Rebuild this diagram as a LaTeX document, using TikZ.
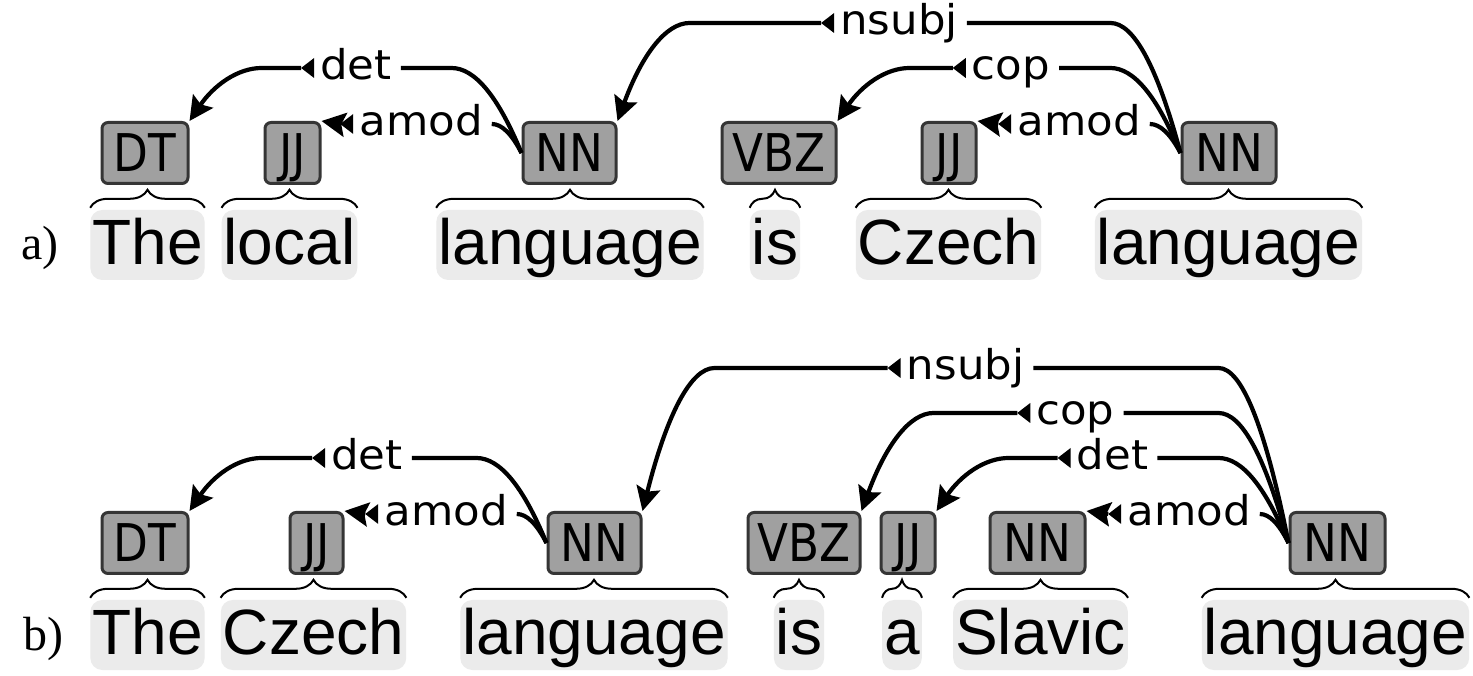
\documentclass[tikz,border=0pt]{standalone}
\usepackage{fontspec}
\usetikzlibrary{arrows.meta,calc,decorations.pathreplacing}
\newfontfamily\wordfont{Liberation Sans}
\newfontfamily\tagfont[FakeStretch=0.87]{DejaVu Sans}
\newfontfamily\labfont[FakeStretch=1.06]{DejaVu Sans}
\newfontfamily\letfont{Liberation Serif}
\definecolor{tagfill}{HTML}{A0A0A0}
\definecolor{tagline}{HTML}{353535}
\definecolor{wordbg}{HTML}{EBEBEB}
\tikzset{
  postag/.style={draw=tagline, line width=3pt, fill=tagfill, rounded corners=6pt,
    inner sep=0pt, minimum height=61pt, text height=37.9pt, text depth=0pt,
    font=\tagfont\fontsize{52}{52}\selectfont},
  wordbox/.style={fill=wordbg, rounded corners=12pt, inner xsep=2pt, inner ysep=4pt,
    text height=51pt, text depth=11pt, anchor=base,
    font=\wordfont\fontsize{64}{64}\selectfont},
  arclabel/.style={inner sep=0pt, text height=22.4pt, text depth=0pt,
    font=\labfont\fontsize{41}{41}\selectfont},
  arcline/.style={line width=4.2pt},
  bigtip/.style={-{Stealth[length=24pt,width=24pt,inset=4pt]}},
  wordbrace/.style={decorate, decoration={brace, amplitude=18pt}, line width=2pt},
  rowmark/.style={anchor=base west, font=\letfont\fontsize{48}{48}\selectfont}
}
\newcommand\LabMark[1]{%
  \coordinate (#1-tip) at ([xshift=-19pt]#1.west);
  \coordinate (#1-end) at ([xshift=9pt]#1.east);
  \fill (#1-tip) -- ([shift={(-6pt,10pt)}]#1.west) -- ([shift={(-6pt,-10pt)}]#1.west) -- cycle;
}
% #1 id, #2 dependent tag, #3 head tag, #4 label x, #5 level, #6 text
\newcommand\DepArc[6]{%
  \node[arclabel] (#1) at (#4,#5) {#6};
  \LabMark{#1}
  \draw[arcline,bigtip] let \p1=(#1-tip), \p2=(#2.north east) in
    (\p1) -- (\x2+72pt,\y1) .. controls (\x2+48pt,\y1) and (\x2+24pt,{\y2+(\y1-\y2)*2/3}) .. (\p2);
  \draw[arcline] let \p1=(#1-end), \p2=(#3.west) in
    (\p1) -- (\x2-70pt,\y1) .. controls (\x2-46.67pt,\y1) and (\x2-23.33pt,{\y2+(\y1-\y2)*2/3}) .. (\p2);
}
\newcommand\ShortArc[6]{%
  \node[arclabel] (#1) at (#4,#5) {#6};
  \LabMark{#1}
  \draw[arcline,bigtip] (#1-tip) -- (#2.north east);
  \draw[arcline] let \p1=(#1-end), \p2=(#3.west) in
    (\p1) .. controls ({\x1+(\x2-\x1)/3},\y1) and ({\x2-(\x2-\x1)/3},{\y2+(\y1-\y2)*2/3}) .. (\p2);
}
\newcommand\WordBrace[1]{%
  \draw[wordbrace] ([yshift=2pt]#1.north west) -- ([yshift=2pt]#1.north east);
}
\begin{document}
\begin{tikzpicture}[x=1pt,y=1pt]
\fill[white] (0,0) rectangle (1473,675);
\useasboundingbox (0,0) rectangle (1473,675);

% ---------- a) ----------
\node[rowmark] (la) at (18,415) {a)};
\node[postag, minimum width=86pt]  (ta1) at (145,522)   {DT};
\node[postag, minimum width=55pt]  (ta2) at (292.5,522) {JJ};
\node[postag, minimum width=93pt]  (ta3) at (569.5,522) {NN};
\node[postag, minimum width=114pt] (ta4) at (779,522)   {VBZ};
\node[postag, minimum width=54pt]  (ta5) at (949,522)   {JJ};
\node[postag, minimum width=94pt]  (ta6) at (1229,522)  {NN};

\node[wordbox] (wa1) at (147.5,410) {The};
\node[wordbox] (wa2) at (289.5,410) {local};
\node[wordbox] (wa3) at (570,410)   {language};
\node[wordbox] (wa4) at (775,410)   {is};
\node[wordbox] (wa5) at (948.5,410) {Czech};
\node[wordbox] (wa6) at (1228.5,410) {language};
\foreach \w in {wa1,wa2,wa3,wa4,wa5,wa6} {\WordBrace{\w}}

\DepArc{a-det}{ta1}{ta3}{356}{607}{det}
\ShortArc{a-amod}{ta2}{ta3}{421}{551}{amod}
\DepArc{a-nsubj}{ta3}{ta6}{899}{652}{nsubj}
\DepArc{a-cop}{ta4}{ta6}{1011}{607}{cop}
\ShortArc{a-amod2}{ta5}{ta6}{1079}{551}{amod}

% ---------- b) ----------
\node[rowmark] (lb) at (20,25) {b)};
\node[postag, minimum width=86pt]  (tb1) at (145,132)    {DT};
\node[postag, minimum width=53pt]  (tb2) at (316.5,132)  {JJ};
\node[postag, minimum width=93pt]  (tb3) at (594.5,132)  {NN};
\node[postag, minimum width=112pt] (tb4) at (804,132)    {VBZ};
\node[postag, minimum width=54pt]  (tb5) at (908,132)    {JJ};
\node[postag, minimum width=95pt]  (tb6) at (1037.5,132) {NN};
\node[postag, minimum width=95pt]  (tb7) at (1337.5,132) {NN};

\node[wordbox] (wb1) at (147.5,20)  {The};
\node[wordbox] (wb2) at (313.5,20)  {Czech};
\node[wordbox] (wb3) at (594,20)    {language};
\node[wordbox] (wb4) at (799,20)    {is};
\node[wordbox] (wb5) at (902,20)    {a};
\node[wordbox] (wb6) at (1040.5,20) {Slavic};
\node[wordbox] (wb7) at (1335.5,20) {language};
\foreach \w in {wb1,wb2,wb3,wb4,wb5,wb6,wb7} {\WordBrace{\w}}

\DepArc{b-det}{tb1}{tb3}{367}{217}{det}
\ShortArc{b-amod}{tb2}{tb3}{446}{161}{amod}
\DepArc{b-nsubj}{tb3}{tb7}{965.5}{307}{nsubj}
\DepArc{b-cop}{tb4}{tb7}{1075.5}{262}{cop}
\DepArc{b-det2}{tb5}{tb7}{1112.5}{217}{det}
\ShortArc{b-amod2}{tb6}{tb7}{1189}{161}{amod}
\end{tikzpicture}
\end{document}
